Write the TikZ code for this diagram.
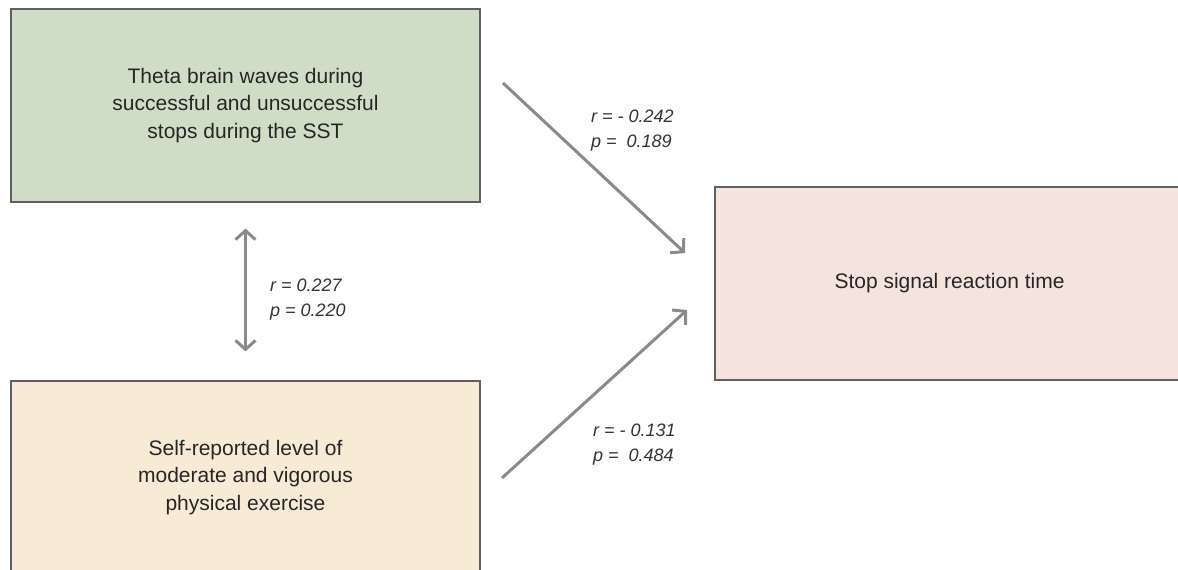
\documentclass[tikz,border=0pt]{standalone}
\usepackage{fontspec}
\setmainfont{Liberation Sans}
\usepackage{tikz}
\usetikzlibrary{arrows.meta, positioning}
\definecolor{thetagreen}{RGB}{207, 221, 199}
\definecolor{exercisetan}{RGB}{248, 235, 214}
\definecolor{ssrtpink}{RGB}{245, 227, 222}
\definecolor{boxedge}{RGB}{95, 95, 95}
\definecolor{arrowgray}{RGB}{138, 138, 138}

\begin{document}
\begin{tikzpicture}[x=1pt, y=-1pt,
            varbox/.style={draw=boxedge, line width=1.2pt, minimum width=469pt, minimum height=193pt,
                align=center, inner sep=0pt, text=black!85, font=\fontsize{21}{27.5}\selectfont},
            link/.style={draw=arrowgray, line width=3pt, >={Straight Barb[length=9pt, width=20pt]}},
            stat/.style={font=\fontsize{18}{25}\selectfont\itshape, align=left, anchor=west,
                text=black!80, inner sep=0pt}]
            \useasboundingbox (0,0) rectangle (1178,570);
            \clip (0,0) rectangle (1178,570);
            % the three variables
            \node[varbox, fill=thetagreen] (theta) at (245.5,105.5)
                {Theta brain waves during\\successful and unsuccessful\\stops during the SST};
            \node[varbox, fill=exercisetan] (exercise) at (245.5,477.5)
                {Self-reported level of\\moderate and vigorous\\physical exercise};
            \node[varbox, fill=ssrtpink] (ssrt) at (949.5,283.5) {Stop signal reaction time};
            % free ends of the two paths
            \coordinate (thetaout) at (503,83);
            \coordinate (ssrtintop) at (685,253);
            \coordinate (exerciseout) at (502,478);
            \coordinate (ssrtinbot) at (687,310);
            \draw[link, ->] (thetaout) -- (ssrtintop);
            \draw[link, ->] (exerciseout) -- (ssrtinbot);
            \draw[link, <->, shorten <=26pt, shorten >=29pt] (theta) -- (exercise);
            % correlations
            \node[stat] (topstat) at (591,131) {r = - 0.242\\p =\ \ 0.189};
            \node[stat] (midstat) at (270,300) {r = 0.227\\p = 0.220};
            \node[stat] (botstat) at (593,445) {r = - 0.131\\p =\ \ 0.484};
        \end{tikzpicture}
\end{document}
